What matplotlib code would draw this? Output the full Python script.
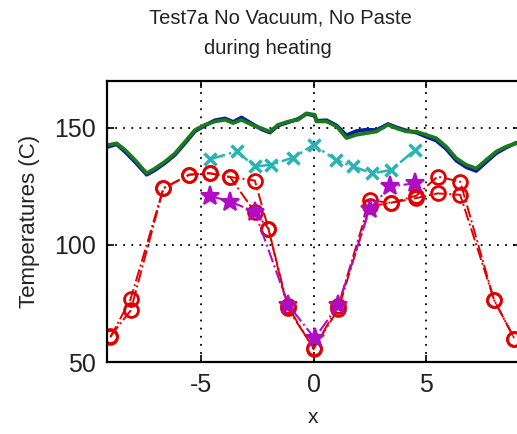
import matplotlib
matplotlib.use("Agg")
import matplotlib.pyplot as plt

plt.rcParams['font.family'] = ['Liberation Sans', 'DejaVu Sans']
plt.rcParams['axes.unicode_minus'] = False

# top band: two nearly identical traces (blue under green)
x_band = [-9.15, -9.09, -8.72, -8.35, -7.91, -7.39, -7.02, -6.58, -6.14, -5.69,
          -5.25, -4.81, -4.37, -3.92, -3.56, -3.19, -2.74, -2.30, -1.93, -1.57,
          -1.12, -0.68, -0.31, 0.06, 0.13, 0.58, 1.02, 1.46, 1.90, 2.35,
          2.79, 3.30, 3.67, 4.12, 4.56, 5.00, 5.44, 5.88, 6.33, 6.77,
          7.21, 7.65, 8.10, 8.54, 8.98, 9.15]
green = [142.5, 142.7, 143.4, 140.6, 136.3, 130.6, 132.7, 135.6, 139.1, 144.1,
         149.1, 151.3, 152.7, 153.4, 152.0, 153.4, 151.3, 149.8, 148.4, 151.3,
         152.7, 153.4, 156.2, 155.6, 152.7, 152.7, 150.6, 145.6, 147.0, 147.7,
         148.4, 151.3, 149.8, 148.4, 148.4, 147.0, 145.6, 142.0, 137.0, 134.2,
         132.7, 136.3, 139.9, 142.0, 143.4, 143.0]
blue = [141.8, 142.0, 143.0, 139.8, 135.5, 130.0, 132.0, 135.0, 138.5, 143.5,
        148.6, 151.0, 153.2, 154.0, 152.5, 154.4, 151.8, 149.4, 148.0, 151.0,
        152.4, 153.8, 156.0, 155.2, 153.0, 153.2, 151.0, 146.8, 148.6, 149.2,
        149.0, 151.6, 150.2, 148.8, 148.0, 146.2, 144.6, 141.0, 136.0, 133.2,
        131.6, 135.4, 139.2, 141.6, 143.6, 143.2]

# cyan x markers
x_cyan = [-4.6, -3.4, -2.6, -1.9, -0.9, 0.0, 1.0, 1.75, 2.6, 3.45, 4.5]
cyan = [136.5, 140.0, 133.5, 134.2, 137.3, 142.7, 136.3, 133.5, 130.6, 132.0, 140.6]

# red open circles (two readings per position)
x_red = [-9.0, -8.1, -6.65, -5.5, -4.6, -3.7, -2.6, -2.0, -1.15, 0.0,
         1.1, 2.5, 3.45, 4.55, 5.5, 6.5, 8.0, 8.9]
red_a = [61.0, 72.0, 124.2, 130.0, 130.6, 129.0, 127.5, 107.0, 74.0, 55.5,
         74.0, 119.0, 118.0, 120.0, 122.0, 121.4, 76.5, 60.0]
red_b = [60.5, 77.0, 124.2, 130.0, 130.6, 129.0, 114.0, 107.0, 73.0, 56.0,
         72.5, 116.5, 118.0, 121.0, 129.2, 127.0, 76.5, 60.0]

# magenta stars
x_mag = [-4.6, -3.7, -2.6, -1.12, 0.05, 1.1, 2.5, 3.4, 4.5]
mag = [121.0, 118.5, 114.2, 74.4, 60.1, 74.4, 115.5, 125.0, 126.3]

fig = plt.figure(figsize=(5.17, 4.34), dpi=100)
ax = fig.add_axes([107 / 517, 72 / 434, 413 / 517, 281 / 434])

ax.plot(x_band, blue, color='#0a1e9c', lw=2.8)
ax.plot(x_band, green, color='#1b7a1b', lw=2.6)
ax.plot(x_cyan, cyan, '-.', color='#28b4b4', lw=1.8, marker='x', ms=8, mew=2.5)
ax.plot(x_red, red_a, '-.', color='#e00000', lw=1.4, marker='o', ms=10,
        mfc='none', mew=2)
ax.plot(x_red, red_b, '-.', color='#e00000', lw=1.4, marker='o', ms=10,
        mfc='none', mew=2)
ax.plot(x_mag, mag, '-.', color='#b00cc4', lw=1.5, marker='*', ms=14, mew=1.5)

ax.set_xlim(-9.15, 9.15)
ax.set_ylim(50, 170)
ax.set_xticks([-5, 0, 5])
ax.set_yticks([50, 100, 150])
ax.grid(True, color='black', linestyle=(0, (1, 3.5)), lw=1.3)
ax.set_axisbelow(True)
ax.tick_params(direction='in', top=True, right=True, length=5, width=1.2,
               labelsize=18, pad=8, labelcolor='#222222')
for s in ax.spines.values():
    s.set_linewidth(1.6)

ax.set_xlabel('x', fontsize=15, labelpad=8, color='#222222')
ax.set_ylabel('Temperatures (C)', fontsize=16, labelpad=10, color='#222222')

fig.text(280 / 517, 1 - 18 / 434, 'Test7a No Vacuum, No Paste',
         ha='center', va='center', fontsize=14.5, color='#222222')
fig.text(268 / 517, 1 - 48 / 434, 'during heating',
         ha='center', va='center', fontsize=14.5, color='#222222')

fig.savefig('out.png', dpi=100)
